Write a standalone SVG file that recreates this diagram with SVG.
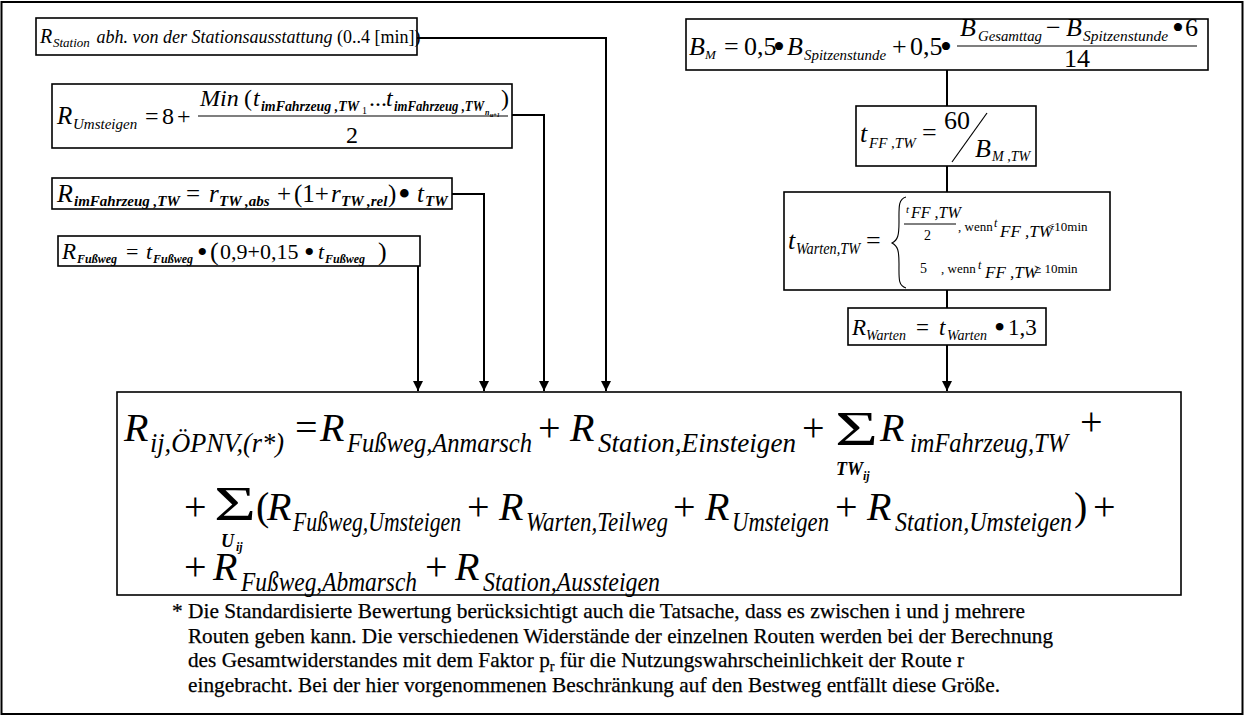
<svg xmlns="http://www.w3.org/2000/svg" width="1245" height="716" viewBox="0 0 1245 716">
<style>
.box{fill:#fff;stroke:#000;stroke-width:1.6}
.frame{fill:#fff;stroke:#000;stroke-width:2}
.conn{fill:none;stroke:#000;stroke-width:2}
text{font-family:"Liberation Serif","Times New Roman",serif;fill:#000}
.i{font-style:italic}
.bi{font-style:italic;font-weight:bold}
.fn{font-size:21px;stroke:#000;stroke-width:0.25}
</style>
<defs>
<marker id="arr" viewBox="0 0 10 10" refX="10" refY="5" markerWidth="10" markerHeight="10" markerUnits="userSpaceOnUse" orient="auto">
<path d="M0,0 L10,5 L0,10 Z" fill="#000"/>
</marker>
</defs>
<rect class="frame" x="1.5" y="2" width="1241" height="712"/>

<g id="connectors">
<path class="conn" d="M417,38 H606 V391" marker-end="url(#arr)"/>
<path class="conn" d="M512,115 H544 V391" marker-end="url(#arr)"/>
<path class="conn" d="M452,194 H484 V391" marker-end="url(#arr)"/>
<path class="conn" d="M418,266 V391" marker-end="url(#arr)"/>
<path class="conn" d="M947,70 V106"/>
<path class="conn" d="M947,166 V192"/>
<path class="conn" d="M947,290 V308"/>
<path class="conn" d="M947,345 V391" marker-end="url(#arr)"/>
</g>

<g id="node-station">
<rect class="box" x="36" y="18" width="381" height="37"/>
<text font-size="18"><tspan x="40" y="43" class="i" font-size="20">R</tspan><tspan x="53" y="47" class="i" font-size="13">Station</tspan><tspan x="92" y="43" class="i"> abh. von der Stationsausstattung</tspan><tspan> (0..4 [min])</tspan></text>
</g>

<g id="node-umsteigen">
<rect class="box" x="52" y="84" width="460" height="64"/>
<text font-size="24">
<tspan x="57" y="124" class="i" font-size="25">R</tspan><tspan x="73" y="129" class="i" font-size="15">Umsteigen</tspan>
<tspan x="145" y="124">=</tspan><tspan x="162" y="124">8</tspan><tspan x="177" y="124">+</tspan>
<tspan x="200" y="106" class="i">Min</tspan><tspan x="244" y="106">(</tspan><tspan x="253" y="106" class="i">t</tspan>
<tspan x="362" y="114" font-size="10">1</tspan>
<tspan x="369" y="106">...</tspan><tspan x="386" y="106" class="i">t</tspan>
<tspan x="485" y="115" class="bi" font-size="8">n</tspan><tspan x="490" y="117" class="bi" font-size="6">u+1</tspan>
<tspan x="501" y="106">)</tspan>
<tspan x="346" y="143">2</tspan>
</text>
<text class="bi" font-size="14" x="261" y="111" textLength="98" lengthAdjust="spacingAndGlyphs">imFahrzeug ,TW</text>
<text class="bi" font-size="14" x="394" y="111" textLength="90" lengthAdjust="spacingAndGlyphs">imFahrzeug ,TW</text>
<line x1="198" y1="116" x2="508" y2="116" stroke="#000" stroke-width="1.2"/>
</g>

<g id="node-imfahrzeug">
<rect class="box" x="52" y="178" width="400" height="31"/>
<text font-size="25">
<tspan x="57" y="202" class="i" font-size="26">R</tspan><tspan x="74" y="206" class="bi" font-size="15">imFahrzeug ,TW</tspan>
<tspan x="186" y="202">=</tspan><tspan x="209" y="202" class="i">r</tspan><tspan x="219" y="206" class="bi" font-size="15">TW ,abs</tspan>
<tspan x="277" y="202">+</tspan><tspan x="294" y="202">(1+</tspan><tspan x="331" y="202" class="i">r</tspan><tspan x="341" y="206" class="bi" font-size="15">TW ,rel</tspan>
<tspan x="388" y="202">)</tspan><tspan x="398" y="206" font-size="36">•</tspan><tspan x="417" y="202" class="i">t</tspan><tspan x="425" y="206" class="bi" font-size="15">TW</tspan>
</text>
</g>

<g id="node-fussweg">
<rect class="box" x="58" y="236" width="362" height="30"/>
<text font-size="22">
<tspan x="62" y="259" class="i" font-size="23">R</tspan><tspan x="77" y="263" class="bi" font-size="12">Fußweg</tspan>
<tspan x="126" y="259">=</tspan><tspan x="146" y="259" class="i">t</tspan><tspan x="153" y="263" class="bi" font-size="12">Fußweg</tspan>
<tspan x="197" y="262" font-size="30">•</tspan><tspan x="210" y="260" font-size="26">(</tspan><tspan x="220" y="259">0,9+0,15</tspan><tspan x="304" y="262" font-size="30">•</tspan><tspan x="318" y="259" class="i">t</tspan><tspan x="325" y="263" class="bi" font-size="12">Fußweg</tspan>
<tspan x="378" y="260" font-size="26">)</tspan>
</text>
</g>

<g id="node-bm">
<rect class="box" x="686" y="19" width="522" height="51"/>
<text font-size="26">
<tspan x="689" y="55" class="i">B</tspan><tspan x="705" y="59" class="i" font-size="13">M</tspan>
<tspan x="724" y="55">=</tspan><tspan x="744" y="55">0,5</tspan><tspan x="773" y="58" font-size="34">•</tspan><tspan x="787" y="55" class="i">B</tspan>
<tspan x="892" y="55">+</tspan><tspan x="910" y="55">0,5</tspan><tspan x="940" y="58" font-size="34">•</tspan>
<tspan x="960" y="36" class="i">B</tspan><tspan x="1046" y="36">−</tspan><tspan x="1066" y="36" class="i">B</tspan><tspan x="1172" y="39" font-size="34">•</tspan><tspan x="1185" y="36">6</tspan>
<tspan x="1064" y="67">14</tspan>
</text>
<g class="i" font-size="14">
<text x="804" y="60" textLength="82" lengthAdjust="spacingAndGlyphs">Spitzenstunde</text>
<text x="978" y="41" textLength="64" lengthAdjust="spacingAndGlyphs">Gesamttag</text>
<text x="1083" y="41" textLength="85" lengthAdjust="spacingAndGlyphs">Spitzenstunde</text>
</g>
<line x1="957" y1="46" x2="1197" y2="46" stroke="#000" stroke-width="1.2"/>
</g>

<g id="node-tff">
<rect class="box" x="856" y="106" width="180" height="60"/>
<text font-size="26">
<tspan x="860" y="142" class="i">t</tspan><tspan x="869" y="148" class="i" font-size="15">FF ,TW</tspan>
<tspan x="922" y="141">=</tspan><tspan x="944" y="129">60</tspan>
<tspan x="975" y="157" class="i">B</tspan><tspan x="992" y="161" class="i" font-size="14">M ,TW</tspan>
</text>
<line x1="987" y1="113" x2="952" y2="162" stroke="#000" stroke-width="1.2"/>
</g>

<g id="node-twarten">
<rect class="box" x="784" y="192" width="326" height="98"/>
<text font-size="26">
<tspan x="788" y="249" class="i">t</tspan>
<tspan x="866" y="249">=</tspan>
<tspan x="906" y="213" class="i" font-size="11">t</tspan><tspan x="911" y="218" class="i" font-size="16">FF ,TW</tspan>
<tspan x="924" y="240" font-size="14">2</tspan>
<tspan x="958" y="231" font-size="13">, wenn </tspan><tspan x="994" y="227" class="i" font-size="12">t</tspan><tspan x="1000" y="237" class="i" font-size="17">FF ,TW</tspan><tspan x="1047" y="231" font-size="13">&lt;10min</tspan>
<tspan x="920" y="273" font-size="14">5</tspan><tspan x="941" y="273" font-size="13">, wenn </tspan><tspan x="978" y="269" class="i" font-size="12">t</tspan><tspan x="985" y="278" class="i" font-size="17">FF ,TW</tspan><tspan x="1034" y="273" font-size="13">≥ 10min</tspan>
</text>
<text class="i" font-size="16" x="796" y="254" textLength="64" lengthAdjust="spacingAndGlyphs">Warten,TW</text>
<line x1="904" y1="224" x2="956" y2="224" stroke="#000" stroke-width="1"/>
<path d="M906,197 C898,199 899,208 899,222 C899,235 898,240 892,243 C898,246 899,251 899,264 C899,278 898,286 906,288" fill="none" stroke="#000" stroke-width="1.1"/>
</g>

<g id="node-rwarten">
<rect class="box" x="848" y="308" width="198" height="37"/>
<text font-size="23">
<tspan x="852" y="335" class="i">R</tspan><tspan x="866" y="340" class="i" font-size="14">Warten</tspan>
<tspan x="916" y="335">=</tspan><tspan x="939" y="335" class="i">t</tspan><tspan x="947" y="340" class="i" font-size="14">Warten</tspan>
<tspan x="994" y="338" font-size="32">•</tspan><tspan x="1008" y="335">1,3</tspan>
</text>
</g>

<g id="node-main">
<rect class="box" x="117" y="392" width="1064" height="203"/>
<text font-size="40">
<tspan x="124" y="441" class="i">R</tspan>
<tspan x="295" y="441">=</tspan>
<tspan x="320" y="441" class="i">R</tspan>
<tspan x="538" y="441">+</tspan>
<tspan x="570" y="441" class="i">R</tspan>
<tspan x="802" y="441">+</tspan>
<tspan x="880" y="441" class="i">R</tspan>
<tspan x="1080" y="435">+</tspan>
<tspan x="184" y="520">+</tspan>
<tspan x="256" y="520">(</tspan>
<tspan x="267" y="520" class="i">R</tspan>
<tspan x="467" y="520">+</tspan>
<tspan x="499" y="520" class="i">R</tspan>
<tspan x="673" y="520">+</tspan>
<tspan x="705" y="520" class="i">R</tspan>
<tspan x="835" y="520">+</tspan>
<tspan x="867" y="520" class="i">R</tspan>
<tspan x="1074" y="520">)</tspan>
<tspan x="1093" y="520">+</tspan>
<tspan x="184" y="580">+</tspan>
<tspan x="213" y="580" class="i">R</tspan>
<tspan x="425" y="580">+</tspan>
<tspan x="455" y="580" class="i">R</tspan>
</text>
<g class="i" font-size="28">
<text x="150" y="452" textLength="134" lengthAdjust="spacingAndGlyphs">ij,ÖPNV,(r*)</text>
<text x="347" y="452" textLength="185" lengthAdjust="spacingAndGlyphs">Fußweg,Anmarsch</text>
<text x="598" y="452" textLength="198" lengthAdjust="spacingAndGlyphs">Station,Einsteigen</text>
<text x="910" y="452" textLength="158" lengthAdjust="spacingAndGlyphs">imFahrzeug,TW</text>
<text x="293" y="531" textLength="168" lengthAdjust="spacingAndGlyphs">Fußweg,Umsteigen</text>
<text x="526" y="531" textLength="142" lengthAdjust="spacingAndGlyphs">Warten,Teilweg</text>
<text x="732" y="531" textLength="97" lengthAdjust="spacingAndGlyphs">Umsteigen</text>
<text x="895" y="531" textLength="177" lengthAdjust="spacingAndGlyphs">Station,Umsteigen</text>
<text x="241" y="591" textLength="176" lengthAdjust="spacingAndGlyphs">Fußweg,Abmarsch</text>
<text x="483" y="591" textLength="177" lengthAdjust="spacingAndGlyphs">Station,Aussteigen</text>
</g>
<text x="835" y="445" font-size="48" textLength="43" lengthAdjust="spacingAndGlyphs">Σ</text>
<text x="214" y="520" font-size="48" textLength="42" lengthAdjust="spacingAndGlyphs">Σ</text>
<text class="bi" font-size="18"><tspan x="836" y="475">TW</tspan><tspan x="863" y="480" font-size="12">ij</tspan></text>
<text class="bi" font-size="18"><tspan x="221" y="547">U</tspan><tspan x="236" y="551" font-size="12">ij</tspan></text>
</g>

<g id="footnote" class="fn">
<text x="172" y="618" textLength="853" lengthAdjust="spacingAndGlyphs">* Die Standardisierte Bewertung berücksichtigt auch die Tatsache, dass es zwischen i und j mehrere</text>
<text x="188" y="643" textLength="865" lengthAdjust="spacingAndGlyphs">Routen geben kann. Die verschiedenen Widerstände der einzelnen Routen werden bei der Berechnung</text>
<text x="188" y="667" textLength="776" lengthAdjust="spacingAndGlyphs">des Gesamtwiderstandes mit dem Faktor p<tspan font-size="14" dy="4">r</tspan><tspan dy="-4"> für die Nutzungswahrscheinlichkeit der Route r</tspan></text>
<text x="188" y="692" textLength="812" lengthAdjust="spacingAndGlyphs">eingebracht. Bei der hier vorgenommenen Beschränkung auf den Bestweg entfällt diese Größe.</text>
</g>
</svg>
